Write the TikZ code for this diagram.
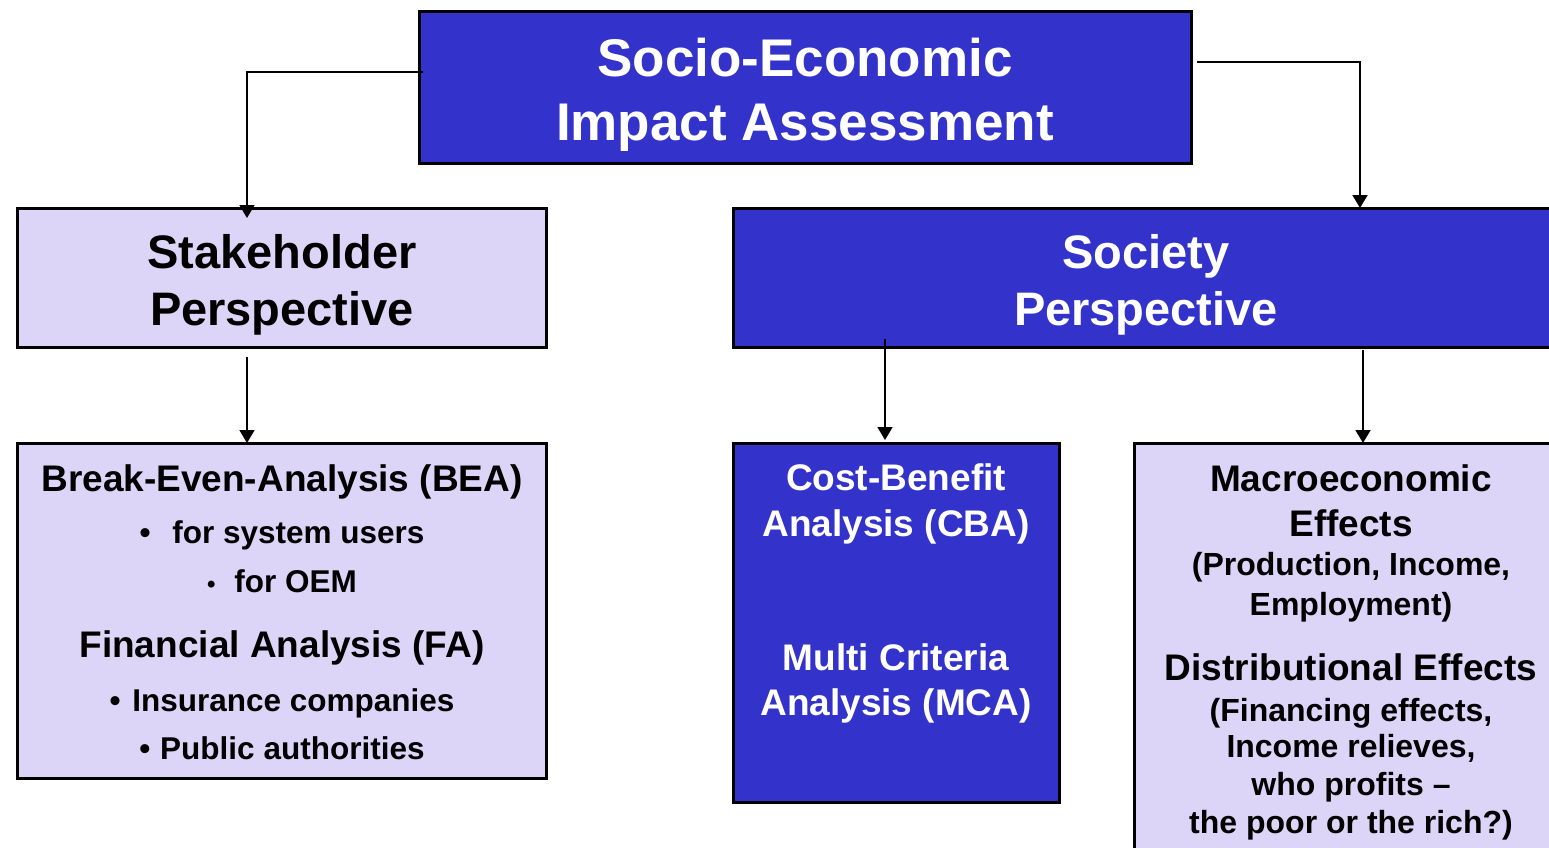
\documentclass[tikz,border=0pt]{standalone}
\usepackage{fontspec}
\setmainfont{Liberation Sans}
\usepackage{tikz}
\usetikzlibrary{arrows.meta}
\usetikzlibrary{calc}
\definecolor{boxblue}{RGB}{51,51,204}
\definecolor{boxlila}{RGB}{221,213,247}
\tikzset{
    box/.style={draw=black, line width=3pt, anchor=north west,
        inner sep=0pt, outer sep=0pt},
    bluebox/.style={box, fill=boxblue},
    lilabox/.style={box, fill=boxlila},
    conn/.style={line width=1.8pt, -{Triangle[length=13pt,width=15pt]}},
    huge/.style={anchor=base, font=\fontsize{53}{63}\selectfont\bfseries},
    head/.style={anchor=base, font=\fontsize{47}{57}\selectfont\bfseries},
    mid/.style={anchor=base, font=\fontsize{37}{45}\selectfont\bfseries},
    small/.style={anchor=base, font=\fontsize{32}{38}\selectfont\bfseries},
    item/.style={anchor=base, font=\fontsize{31.5}{38}\selectfont\bfseries}
}
\begin{document}
\begin{tikzpicture}[x=1pt,y=-1pt]
    \useasboundingbox (0,0) rectangle (1549,848);
    \clip (0,0) rectangle (1549,848);
    %boxes
    \node[bluebox, minimum width=772, minimum height=151] (title) at (419,12) {};
    \node[lilabox, minimum width=529, minimum height=139] (stake) at (17,208) {};
    \node[bluebox, minimum width=826, minimum height=139] (society) at (733,208) {};
    \node[lilabox, minimum width=529, minimum height=335] (bea) at (17,443) {};
    \node[bluebox, minimum width=326, minimum height=359] (cba) at (733,443) {};
    \node[lilabox, minimum width=434, minimum height=430] (macro) at (1134,443) {};
    %arrows
    \draw[conn] ($(title.north west)+(4,60)$) -| ($(stake.north west)+(230,10)$);
    \draw[conn] ($(title.north east)+(6,50)$) -| ($(society.north west)+(627,0)$);
    \draw[conn] ($(stake.south west)+(230,10)$) -- ($(bea.north west)+(230,0)$);
    \draw[conn] ($(society.south west)+(152,-8)$) -- ($(cba.north west)+(152,-3)$);
    \draw[conn] ($(society.south west)+(630,3)$) -- ($(macro.north west)+(229,0)$);
    %top
    \node[huge, white] (t1) at (805,77) {Socio-Economic};
    \node[huge, white] (t2) at (805,140) {Impact Assessment};
    %perspectives
    \node[head] (s1) at (282,268) {Stakeholder};
    \node[head] (s2) at (282,325) {Perspective};
    \node[head, white] (p1) at (1146,268) {Society};
    \node[head, white] (p2) at (1146,325) {Perspective};
    %left box
    \node[mid] (b1) at (282,491) {Break-Even-Analysis (BEA)};
    \node[item] (b2) at (282,543) {•\hspace{13pt} for system users};
    \node[item] (b3) at (282,592) {{\fontsize{24}{30}\selectfont •}\hspace{10pt} for OEM};
    \node[mid] (b4) at (282,657) {Financial Analysis (FA)};
    \node[item] (b5) at (282,711) {•\hspace{3pt} Insurance companies};
    \node[item] (b6) at (282,759) {•\hspace{1pt} Public authorities};
    %middle box
    \node[mid, white] (c1) at (896,490) {Cost-Benefit};
    \node[mid, white] (c2) at (896,536) {Analysis (CBA)};
    \node[mid, white] (c3) at (896,670) {Multi Criteria};
    \node[mid, white] (c4) at (896,715) {Analysis (MCA)};
    %right box
    \node[mid] (m1) at (1351,491) {Macroeconomic};
    \node[mid] (m2) at (1351,536) {Effects};
    \node[small] (m3) at (1351,575) {(Production, Income,};
    \node[small] (m4) at (1351,615) {Employment)};
    \node[mid] (m5) at (1351,680) {Distributional Effects};
    \node[small] (m6) at (1351,721) {(Financing effects,};
    \node[small] (m7) at (1351,757) {Income relieves,};
    \node[small] (m8) at (1351,795) {who profits –};
    \node[small] (m9) at (1351,833) {the poor or the rich?)};
\end{tikzpicture}
\end{document}
